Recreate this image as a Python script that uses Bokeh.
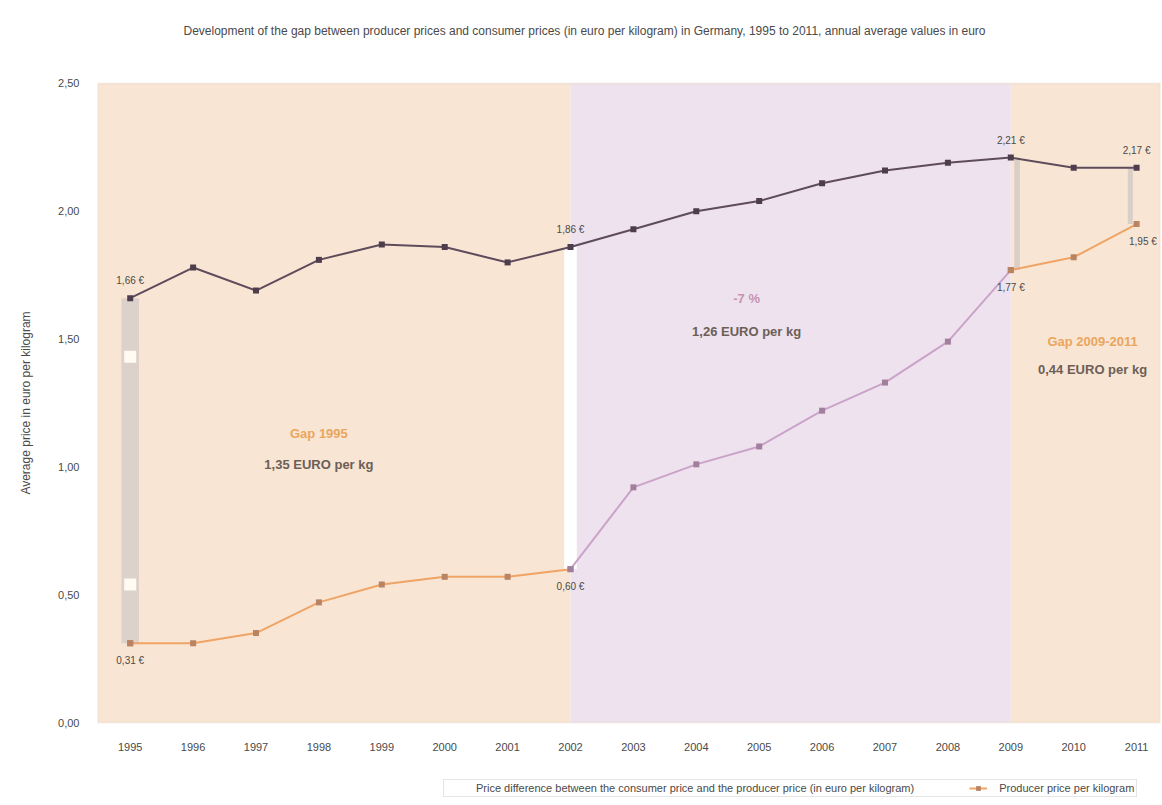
from bokeh.plotting import figure
from bokeh.models import (Range1d, FixedTicker, BoxAnnotation, Label, Legend, LegendItem,
                          ColumnDataSource, LabelSet)
from bokeh.core.properties import value
from bokeh.embed import file_html
from bokeh.resources import INLINE

# ---------------- data ----------------
years = ["1995", "1996", "1997", "1998", "1999", "2000", "2001", "2002", "2003",
         "2004", "2005", "2006", "2007", "2008", "2009", "2010", "2011"]
consumer = [1.66, 1.78, 1.69, 1.81, 1.87, 1.86, 1.80, 1.86, 1.93,
            2.00, 2.04, 2.11, 2.16, 2.19, 2.21, 2.17, 2.17]
producer = [0.31, 0.31, 0.35, 0.47, 0.54, 0.57, 0.57, 0.60, 0.92,
            1.01, 1.08, 1.22, 1.33, 1.49, 1.77, 1.82, 1.95]
y_ticks = [0.0, 0.5, 1.0, 1.5, 2.0, 2.5]
y_tick_labels = ["0,00", "0,50", "1,00", "1,50", "2,00", "2,50"]
gap_idx = [0, 7, 14, 16]
period_breaks = [7, 14]
title_text = ("Development of the gap between producer prices and consumer prices "
              "(in euro per kilogram) in Germany, 1995 to 2011, annual average values in euro")
y_label = "Average price in euro per kilogram"
legend_gap = ("Price difference between the consumer price and the producer price "
              "(in euro per kilogram)")
legend_line = "Producer price per kilogram"

FONT = "Liberation Sans"
TXT = "#4a4a4a"
Y_MIN, Y_MAX = 0.0, 2.5

x = list(range(len(years)))

# the frame fills the whole page height so that title and legend (drawn as
# annotations above and below the plot area) are not clipped
p = figure(width=1162, height=805, output_backend="svg", toolbar_location=None, title=None,
           x_range=Range1d(-0.52, 16.38), y_range=Range1d(-0.3247, 2.8247),
           min_border_left=97, min_border_right=2, min_border_top=0, min_border_bottom=0)
p.background_fill_color = "white"
p.border_fill_color = "white"
p.outline_line_color = None
p.xgrid.visible = False
p.ygrid.visible = False

# period bands
band_cols = ["#f9e5d3", "#eee2ee", "#f9e5d3"]
edges = [None] + period_breaks + [None]
for i in range(3):
    p.add_layout(BoxAnnotation(left=edges[i], right=edges[i + 1], bottom=Y_MIN, top=Y_MAX,
                               fill_color=band_cols[i], fill_alpha=1, line_color=None,
                               level="underlay"))
# plot area border
p.add_layout(BoxAnnotation(bottom=Y_MIN, top=Y_MAX, fill_alpha=0, line_color="#d9c9bb",
                           line_width=2, level="underlay"))

# axes
p.xaxis.fixed_location = Y_MIN
p.xaxis.ticker = FixedTicker(ticks=x)
p.xaxis.major_label_overrides = {i: y for i, y in enumerate(years)}
p.yaxis.ticker = FixedTicker(ticks=y_ticks)
p.yaxis.major_label_overrides = {t: l for t, l in zip(y_ticks, y_tick_labels)}
for ax in (p.xaxis[0], p.yaxis[0]):
    ax.axis_line_color = None
    ax.major_tick_line_color = None
    ax.minor_tick_line_color = None
    ax.major_label_text_font = FONT
    ax.major_label_text_font_size = "11px"
    ax.major_label_text_color = TXT
p.xaxis.major_label_standoff = 14
p.yaxis.major_label_standoff = 12
p.yaxis.axis_label = y_label
p.yaxis.axis_label_text_font = FONT
p.yaxis.axis_label_text_font_size = "12px"
p.yaxis.axis_label_text_font_style = "normal"
p.yaxis.axis_label_text_color = TXT
p.yaxis.axis_label_standoff = 22

# title
p.add_layout(Label(x=487, y=775, x_units="screen", y_units="screen", text=title_text,
                   text_align="center", text_baseline="middle", text_font=FONT,
                   text_font_size="12px", text_color=TXT))

# gap bars
gx = [gap_idx[0], gap_idx[1], gap_idx[2] + 0.1, gap_idx[3] - 0.1]
gsrc = ColumnDataSource(dict(x=gx, top=[consumer[i] for i in gap_idx],
                             bottom=[producer[i] for i in gap_idx],
                             w=[0.28, 0.2, 0.09, 0.08],
                             c=["#ddd1cb", "#ffffff", "#d9cfc6", "#d9cfc6"]))
bars = p.vbar(x="x", top="top", bottom="bottom", width="w", fill_color="c", line_color=None, source=gsrc)
i0 = gap_idx[0]
span0 = consumer[i0] - producer[i0]
p.rect(x=[i0, i0], y=[producer[i0] + 0.17 * span0, consumer[i0] - 0.17 * span0],
       width=12, height=12, width_units="screen", height_units="screen",
       fill_color="#fffaf2", line_color=None)

# consumer line
p.line(x, consumer, line_color="#5e4b5c", line_width=2)
p.scatter(x, consumer, marker="square", size=6, fill_color="#4e3d4c", line_color=None)

# producer line, coloured by period
seg_cols = ["#efa466", "#caa3c8", "#efa466"]
mk_cols = ["#b88463", "#a37f9e", "#b88463"]
bounds = [0] + period_breaks + [len(x) - 1]
line_r = None
for k in range(3):
    a, b = bounds[k], bounds[k + 1]
    xs = x[a:b + 1]
    ys = producer[a:b + 1]
    r = p.line(xs, ys, line_color=seg_cols[k], line_width=2)
    p.scatter(xs, ys, marker="square", size=6, fill_color=mk_cols[k], line_color=None)
    if k == 0:
        line_r = r
leg_mark = p.scatter([x[0]], [producer[0]], marker="square", size=6, fill_color=mk_cols[0],
                     line_color=None)

# value labels
def fmt(v):
    return ("%.2f" % v).replace(".", ",") + " €"

lab_up = ColumnDataSource(dict(x=[gx[0], gap_idx[1], gap_idx[2], gap_idx[3]],
                               y=[consumer[i] for i in gap_idx],
                               t=[fmt(consumer[i]) for i in gap_idx]))
p.add_layout(LabelSet(x="x", y="y", text="t", source=lab_up, y_offset=12, text_align="center",
                      text_baseline="bottom", text_font=value(FONT), text_font_size="10px",
                      text_color=TXT))
lab_lo = ColumnDataSource(dict(x=[gap_idx[0], gap_idx[1], gap_idx[2], gap_idx[3] + 0.1],
                               y=[producer[i] for i in gap_idx],
                               t=[fmt(producer[i]) for i in gap_idx]))
p.add_layout(LabelSet(x="x", y="y", text="t", source=lab_lo, y_offset=-12, text_align="center",
                      text_baseline="top", text_font=value(FONT), text_font_size="10px",
                      text_color=TXT))

# period annotations
def gap_txt(i):
    return ("%.2f" % (consumer[i] - producer[i])).replace(".", ",") + " EURO per kg"

ann = [
    (3.0, 1.13, "Gap 1995", "#eaa55e", 1.01, gap_txt(0)),
    (9.8, 1.66, "-7 %", "#c792b4", 1.53, gap_txt(7)),
    (15.3, 1.49, "Gap 2009-2011", "#eaa55e", 1.38, gap_txt(14)),
]
for ax_, y1, t1, c1, y2, t2 in ann:
    p.add_layout(Label(x=ax_, y=y1, text=t1, text_align="center", text_baseline="middle",
                       text_font=FONT, text_font_size="13px", text_font_style="bold",
                       text_color=c1))
    p.add_layout(Label(x=ax_, y=y2, text=t2, text_align="center", text_baseline="middle",
                       text_font=FONT, text_font_size="13px", text_font_style="bold",
                       text_color="#6b5f57"))

# legend (below the year labels)
legend = Legend(items=[LegendItem(label=legend_gap, renderers=[bars], index=1),
                       LegendItem(label=legend_line, renderers=[line_r, leg_mark])],
                orientation="horizontal", location=(346, 8),
                label_text_font=FONT, label_text_font_size="11px", label_text_color=TXT,
                border_line_color="#cccccc", background_fill_color="white",
                background_fill_alpha=1, glyph_width=18, glyph_height=12,
                padding=2, spacing=55, margin=0, label_standoff=12, label_width=60)
p.add_layout(legend)

open("out.html", "w").write(file_html(p, INLINE))
